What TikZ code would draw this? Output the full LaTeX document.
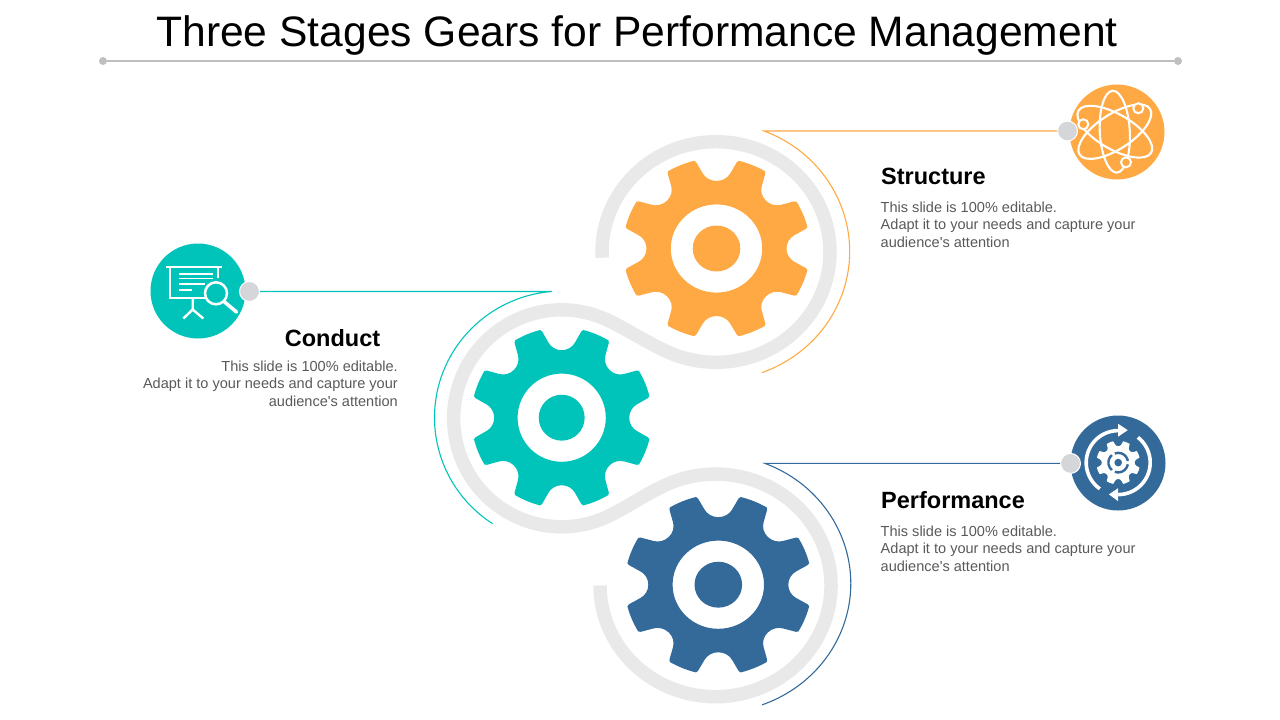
\documentclass[tikz,border=0pt]{standalone}
\usepackage{fontspec}
\setmainfont{Liberation Sans}[Ligatures=TeXOff]
\definecolor{gorange}{HTML}{FFA944}
\definecolor{gteal}{HTML}{00C4BA}
\definecolor{gblue}{HTML}{336A9A}
\definecolor{gring}{HTML}{E9E9EA}
\definecolor{gdot}{HTML}{D5D6DA}
\definecolor{grule}{HTML}{BFBFBF}
\definecolor{gtext}{HTML}{595959}
\tikzset{
  x=1pt,y=1pt,
  gearshape/.pic={
    \fill[pic actions,even odd rule] (0:70)
      foreach \a in {0,45,...,315}{
        .. controls ({\a+5}:70.2) and ({\a+8.75}:74.3) .. ({\a+10}:79)
        -- ({\a+12.8}:91.6)
        .. controls ({\a+13}:92.6) and ({\a+13.2}:93.2) .. ({\a+13.8}:93.6)
        .. controls ({\a+19.5}:94) and ({\a+25.5}:94) .. ({\a+31.2}:93.6)
        .. controls ({\a+31.8}:93.2) and ({\a+32}:92.6) .. ({\a+32.2}:91.6)
        -- ({\a+35}:79)
        .. controls ({\a+36.25}:74.3) and ({\a+40}:70.2) .. ({\a+45}:70)
      } -- cycle
      (0,0) circle (45.7) (0,0) circle (23.8);
  },
  band/.style={draw=gring,line width=13.5pt,line join=round},
  dotnode/.style={circle,fill=gdot,draw=white,line width=1pt,minimum size=20pt,inner sep=0pt},
  iconbg/.style={circle,minimum size=95pt,inner sep=0pt},
  enddot/.style={circle,fill=grule,minimum size=8pt,inner sep=0pt},
  leader/.style={line width=1.1pt},
  headtxt/.style={font=\fontsize{23.5}{28}\selectfont\bfseries,text=black,inner sep=0pt},
  bodytxt/.style={font=\fontsize{14.55}{17.6}\selectfont,text=gtext,inner sep=0pt},
  iconln/.style={draw=white,line width=2.1pt},
}
\begin{document}
\begin{tikzpicture}
\useasboundingbox (0,0) rectangle (1280,-720);
% title
\node[inner sep=0pt,font=\fontsize{42.6}{50}\selectfont] (title) at (637,-35.3) {Three Stages Gears for Performance Management};
\node[enddot] (ruleL) at (103,-61) {};
\node[enddot] (ruleR) at (1178,-61) {};
\draw[line width=2pt,draw=grule] (ruleL) -- (ruleR);
% grey band
\draw[band]
  (716,-252) ++(183:114 and 110.3)
  arc[start angle=183,end angle=-115,x radius=114,y radius=110.3]
  .. controls (647.8,-343) and (627.3,-329.4) .. (607.3,-320)
  arc[start angle=65,end angle=295,x radius=108,y radius=108.5]
  .. controls (627.3,-507.2) and (646.7,-493.5) .. (666.7,-484.5)
  arc[start angle=115,end angle=-180,x radius=115.5,y radius=111.3];
% gears
\pic[fill=gorange,yscale=.965] at (716.5,-248.5) {gearshape};
\pic[fill=gteal,scale=.965] at (561.7,-417.7) {gearshape};
\pic[fill=gblue,yscale=.965] at (718.3,-584.7) {gearshape};
% coordinates for free ends
\coordinate (endS) at (764,-131);
\coordinate (endC) at (552,-291.5);
\coordinate (endP) at (765,-463.4);
% icon discs
\node[iconbg,fill=gorange] (iconS) at (1117,-132) {};
\node[iconbg,fill=gteal] (iconC) at (198,-291) {};
\node[iconbg,fill=gblue] (iconP) at (1118,-463) {};
% connector dots
\node[dotnode] (dotS) at (1067.5,-131) {};
\node[dotnode] (dotC) at (249.5,-291.5) {};
\node[dotnode] (dotP) at (1070.5,-463.4) {};
% leaders
\draw[leader,draw=gorange] (dotS) -- (endS)
  arc[start angle=69,end angle=-70,x radius=133.5,y radius=129];
\draw[leader,draw=gteal] (dotC) -- (endC)
  arc[start angle=94.5,end angle=237,x radius=127.5,y radius=126.5];
\draw[leader,draw=gblue] (dotP) -- (endP)
  arc[start angle=68.7,end angle=-70,x radius=134.7,y radius=129];
% atom icon
\begin{scope}[shift={(1114.8,-131.7)}]
  \draw[iconln,rotate=3] (0,0) ellipse (15 and 41);
  \draw[iconln,rotate=60] (0,0) ellipse (17.5 and 42);
  \draw[iconln,rotate=-57] (0,0) ellipse (17.5 and 42);
  \fill[gorange,draw=white,line width=2pt] (23.5,23.4) circle (5);
  \fill[gorange,draw=white,line width=2pt] (-31.5,7.4) circle (5);
  \fill[gorange,draw=white,line width=2pt] (11.2,-30.6) circle (5);
\end{scope}
% presentation + magnifier icon
\begin{scope}[shift={(140,-235)}]
  \draw[iconln,line width=2.2pt] (26,-32.3) -- (82.3,-32.3);
  \draw[iconln] (30,-32.3) -- (30,-63.3) -- (66,-63.3);
  \draw[iconln] (78.3,-32.3) -- (78.3,-43);
  \draw[iconln,line width=1.7pt] (38.5,-39.3) -- (72.5,-39.3);
  \draw[iconln,line width=1.7pt] (38.5,-43.5) -- (72.5,-43.5);
  \draw[iconln,line width=1.7pt] (38.5,-49) -- (65,-49);
  \draw[iconln,line width=1.7pt] (38.5,-55) -- (51.5,-55);
  \draw[iconln,line width=2.4pt] (52.7,-63.3) -- (52.7,-75) (43.3,-83.5) -- (52.7,-74.5) -- (63.3,-83.5);
  \draw[iconln,line width=2.5pt] (76,-58.3) circle (11);
  \draw[iconln,line width=3.6pt,line cap=round] (84,-66.5) -- (96.5,-77);
\end{scope}
% cycle + gear icon
\begin{scope}[shift={(1118.2,-462.6)}]
  \draw[white,line width=3.6pt] (235:32) arc[start angle=235,end angle=90,radius=32];
  \draw[white,line width=3.6pt] (52:32) arc[start angle=52,end angle=-90,radius=32];
  \fill[white] (0,38.8) -- (0,26) -- (9.5,32.4) -- cycle;
  \fill[white] (0,-25.5) -- (0,-38.6) -- (-9.3,-31.8) -- cycle;
  \pic[fill=white,scale=.234] at (0,0) {gearshape};
  \fill[white] (0,0) circle (11.5);
  \draw[gblue,line width=2.4pt] (10:9.8) arc[start angle=10,end angle=110,radius=9.8];
  \draw[gblue,line width=2.4pt] (130:9.8) arc[start angle=130,end angle=230,radius=9.8];
  \draw[gblue,line width=2.4pt] (250:9.8) arc[start angle=250,end angle=350,radius=9.8];
  \fill[gblue] (0,0) circle (3.8);
\end{scope}
% texts
\node[headtxt,anchor=base west] (hS) at (881,-184) {Structure};
\node[bodytxt,anchor=north west,align=left] (bS) at (880.5,-201.3) {This slide is 100\% editable.\\Adapt it to your needs and capture your\\audience's attention};
\node[headtxt,anchor=base] (hC) at (332.5,-346) {Conduct};
\node[bodytxt,anchor=north east,align=right] (bC) at (398,-360.3) {This slide is 100\% editable.\\Adapt it to your needs and capture your\\audience's attention};
\node[headtxt,anchor=base west] (hP) at (881,-508) {Performance};
\node[bodytxt,anchor=north west,align=left] (bP) at (880.5,-525.3) {This slide is 100\% editable.\\Adapt it to your needs and capture your\\audience's attention};
\end{tikzpicture}
\end{document}
